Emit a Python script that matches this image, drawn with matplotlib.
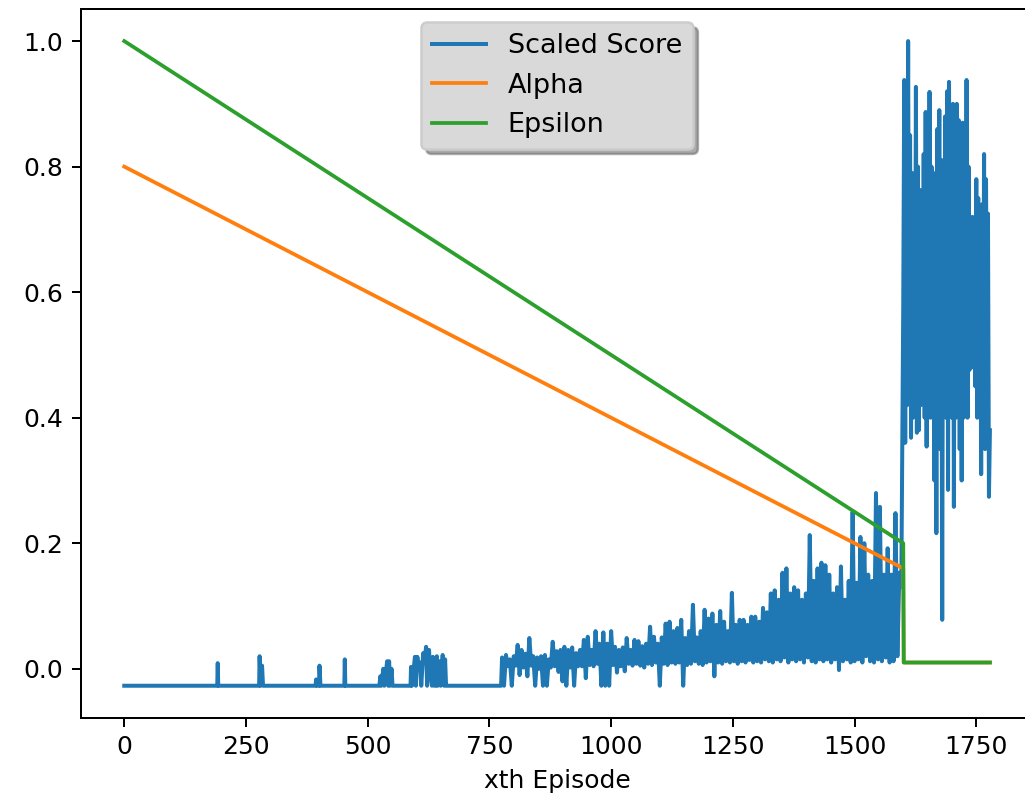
import numpy as np
import matplotlib
matplotlib.use("Agg")
import matplotlib.pyplot as plt

# --- Scaled score, early episodes (mostly flat at the floor, a few spikes) ---
early_ep = [0, 191, 192, 193, 277, 278, 280, 283, 285,
            393, 394, 396, 400, 401, 403, 452, 453, 454,
            524, 526, 528, 532, 534, 540, 542, 544, 546, 549, 551,
            588, 589, 591, 597, 599, 602, 604, 608, 610, 614, 616, 620, 622,
            626, 628, 632, 634, 637, 640, 642, 644, 648, 650, 654, 657, 659, 661, 774]
early_val = [-0.027, -0.027, 0.009, -0.027, -0.027, 0.020, -0.027, 0.005, -0.027,
             -0.027, -0.017, -0.027, -0.027, 0.005, -0.027, -0.027, 0.015, -0.027,
             -0.027, -0.012, -0.027, 0.000, -0.027, 0.012, -0.027, 0.012, -0.027, 0.000, -0.027,
             -0.027, 0.003, -0.027, 0.019, -0.027, 0.019, 0.005, 0.010, -0.027, 0.025, 0.010, 0.035, -0.027,
             0.030, 0.000, -0.027, 0.019, -0.027, -0.027, 0.020, -0.027, 0.012, -0.027, 0.022, -0.027, 0.015, -0.027, -0.027]

# --- Scaled score, episodes 776..1596 every 4th episode ---
mid_start, mid_step = 776, 4
mid_val = [
    0.018, -0.027, 0.022, 0.004, 0.015, -0.027, 0.020, 0.005, 0.038, -0.010,
    0.030, 0.002, 0.024, -0.012, 0.049, 0.005, 0.020, -0.027, 0.018, 0.000,
    0.020, -0.027, 0.022, -0.027, 0.015, 0.002, 0.043, 0.004, 0.028, -0.005,
    0.030, -0.020, 0.035, -0.027, 0.030, 0.002, 0.034, -0.027, 0.025, 0.004,
    0.030, 0.004, 0.046, -0.015, 0.051, 0.006, 0.030, 0.004, 0.060, 0.008,
    0.040, -0.027, 0.058, -0.027, 0.040, -0.027, 0.060, 0.006, 0.035, -0.006,
    0.030, 0.004, 0.034, -0.004, 0.049, 0.008, 0.030, 0.005, 0.046, 0.008,
    0.044, 0.005, 0.036, 0.002, 0.040, 0.008, 0.067, 0.006, 0.051, 0.010,
    0.040, -0.027, 0.050, 0.008, 0.072, 0.006, 0.075, 0.010, 0.060, 0.008,
    0.065, 0.010, 0.078, -0.027, 0.049, 0.006, 0.060, 0.008, 0.102, 0.012,
    0.050, 0.008, 0.060, 0.006, 0.094, 0.010, 0.080, 0.012, 0.088, -0.012,
    0.070, 0.010, 0.092, 0.008, 0.075, 0.012, 0.060, 0.010, 0.121, 0.012,
    0.070, 0.008, 0.078, 0.012, 0.078, 0.010, 0.070, 0.014, 0.083, 0.010,
    0.083, 0.012, 0.075, 0.010, 0.097, 0.015, 0.090, 0.012, 0.120, 0.010,
    0.125, 0.015, 0.110, 0.012, 0.153, 0.018, 0.160, 0.010, 0.120, 0.015,
    0.130, 0.012, 0.125, 0.015, 0.110, 0.010, 0.120, 0.018, 0.213, 0.012,
    0.140, 0.010, 0.160, 0.015, 0.169, 0.012, 0.165, 0.015, 0.150, 0.010,
    0.120, 0.015, 0.130, -0.002, 0.163, 0.012, 0.110, 0.015, 0.140, 0.010,
    0.250, 0.012, 0.137, 0.015, 0.210, 0.010, 0.200, 0.020, 0.150, 0.012,
    0.140, 0.010, 0.280, 0.015, 0.258, 0.012, 0.150, 0.018, 0.192, 0.010,
    0.150, 0.012, 0.248, 0.020, 0.153, 0.130,
]

# --- Scaled score, episodes 1600..1778 every 2nd episode ---
late_start, late_step = 1600, 2
late_val = [
    0.58, 0.938, 0.36, 0.88, 0.42, 1.00, 0.45, 0.85, 0.368, 0.79,
    0.40, 0.75, 0.45, 0.927, 0.376, 0.80, 0.38, 0.763, 0.42, 0.70,
    0.45, 0.82, 0.40, 0.887, 0.354, 0.78, 0.45, 0.919, 0.40, 0.80,
    0.45, 0.79, 0.30, 0.75, 0.216, 0.86, 0.40, 0.89, 0.35, 0.81,
    0.078, 0.81, 0.45, 0.88, 0.40, 0.92, 0.285, 0.935, 0.45, 0.88,
    0.40, 0.90, 0.258, 0.85, 0.40, 0.90, 0.45, 0.874, 0.35, 0.86,
    0.30, 0.87, 0.40, 0.75, 0.45, 0.938, 0.40, 0.80, 0.476, 0.704,
    0.50, 0.72, 0.48, 0.70, 0.45, 0.78, 0.40, 0.75, 0.45, 0.70,
    0.31, 0.74, 0.45, 0.82, 0.35, 0.78, 0.45, 0.725, 0.274, 0.38,
]

# Alpha / Epsilon schedules (breakpoints)
sched_ep = [0, 1600, 1601, 1778]
alpha_val = [0.8, 0.16, 0.01, 0.01]
epsilon_val = [1.0, 0.2, 0.01, 0.01]

mid_ep = mid_start + mid_step * np.arange(len(mid_val))
late_ep = late_start + late_step * np.arange(len(late_val))
score_ep = np.concatenate([early_ep, mid_ep, late_ep])
score_val = np.concatenate([early_val, mid_val, late_val])

fig = plt.figure(figsize=(1025 / 180, 804 / 180), dpi=180)
ax = fig.add_axes([0.079, 0.107, 0.929, 0.882])

ax.plot(score_ep, score_val, label="Scaled Score", lw=1.6)
ax.plot(sched_ep, alpha_val, label="Alpha")
ax.plot(sched_ep, epsilon_val, label="Epsilon")

ax.set_xticks([0, 250, 500, 750, 1000, 1250, 1500, 1750])
ax.set_yticks([0.0, 0.2, 0.4, 0.6, 0.8, 1.0])
ax.set_xlabel("xth Episode")
ax.legend(loc="upper center", shadow={"color": "0.45", "alpha": 0.6},
          facecolor="#d9d9d9", framealpha=1, fontsize=10.8)

fig.savefig("out.png", dpi=180)
